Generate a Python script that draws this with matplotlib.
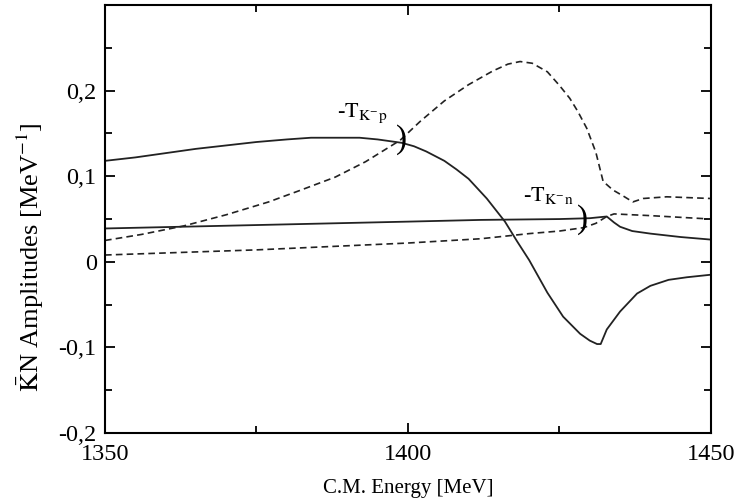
import numpy as np
import matplotlib.pyplot as plt
from matplotlib.ticker import MultipleLocator, FuncFormatter

plt.rcParams['font.family'] = ['Liberation Serif', 'DejaVu Serif']
plt.rcParams['mathtext.fontset'] = 'stix'

# -T(K-p) amplitude, real part (solid) and imaginary part (dashed)
e_kp_re = [1350, 1355, 1360, 1365, 1370, 1375, 1380, 1384, 1388, 1392, 1395, 1397,
           1399, 1401, 1403, 1406, 1408, 1410, 1413, 1416, 1418, 1420, 1423, 1425.6,
           1428.4, 1430, 1431.2, 1431.8, 1432.8, 1435, 1437.8, 1440, 1443, 1446, 1450]
kp_re = [0.118, 0.122, 0.127, 0.132, 0.136, 0.140, 0.143, 0.145, 0.145, 0.145, 0.143,
         0.141, 0.139, 0.135, 0.129, 0.118, 0.108, 0.097, 0.074, 0.047, 0.024, 0.002,
         -0.036, -0.064, -0.084, -0.092, -0.096, -0.096, -0.079, -0.058, -0.037,
         -0.028, -0.021, -0.018, -0.015]

e_kp_im = [1350, 1356, 1363, 1370, 1377, 1382, 1388, 1393, 1398.7, 1402, 1406, 1410,
           1414, 1416.5, 1418.5, 1420.5, 1423, 1425, 1426.7, 1428, 1429.5, 1431, 1432.2,
           1433.8, 1435.5, 1437.1, 1438.8, 1442.7, 1450]
kp_im = [0.025, 0.032, 0.042, 0.055, 0.070, 0.083, 0.099, 0.117, 0.142, 0.164, 0.188,
         0.207, 0.223, 0.231, 0.234, 0.232, 0.222, 0.206, 0.191, 0.176, 0.156, 0.128,
         0.094, 0.084, 0.077, 0.070, 0.074, 0.076, 0.074]

# -T(K-n) amplitude, real part (solid) and imaginary part (dashed)
e_kn_re = [1350, 1375, 1400, 1412, 1425, 1430, 1432.8, 1434, 1435, 1437, 1440, 1445, 1450]
kn_re = [0.039, 0.043, 0.047, 0.049, 0.050, 0.051, 0.053, 0.046, 0.041, 0.036, 0.033,
         0.029, 0.026]

e_kn_im = [1350, 1375, 1400, 1412, 1420, 1425, 1429, 1431, 1432.8, 1434, 1437, 1440,
           1445, 1450]
kn_im = [0.008, 0.014, 0.022, 0.027, 0.033, 0.036, 0.040, 0.045, 0.053, 0.056, 0.055,
         0.054, 0.052, 0.050]

ink = '#222222'

fig = plt.figure(figsize=(7.41, 5.03), dpi=100)
ax = fig.add_axes([0.1417, 0.139, 0.8178, 0.851])

ax.plot(e_kp_re, kp_re, color=ink, lw=1.3)
ax.plot(e_kp_im, kp_im, color=ink, lw=1.2, ls=(0, (4, 2.5)))
ax.plot(e_kn_re, kn_re, color=ink, lw=1.3)
ax.plot(e_kn_im, kn_im, color=ink, lw=1.2, ls=(0, (4, 2.5)))

# bracket marks where the curves are labelled
ax.text(1398.9, 0.143, ')', fontsize=24, ha='center', va='center', color='black')
ax.text(1428.8, 0.049, ')', fontsize=24, ha='center', va='center', color='black')
ax.text(1392.5, 0.174, r'-$\mathrm{T}_{\mathrm{K}^{-}\mathrm{p}}$', fontsize=16,
        ha='center', va='center')
ax.text(1423.2, 0.077, r'-$\mathrm{T}_{\mathrm{K}^{-}\mathrm{n}}$', fontsize=16,
        ha='center', va='center')

ax.set_xlim(1350, 1450)
ax.set_ylim(-0.2, 0.3)
ax.xaxis.set_major_locator(MultipleLocator(50))
ax.xaxis.set_minor_locator(MultipleLocator(25))
ax.set_yticks([-0.2, -0.1, 0, 0.1, 0.2])
ax.yaxis.set_minor_locator(MultipleLocator(0.05))


def comma(v, pos):
    if abs(v) < 1e-9:
        return '0'
    return ('%.1f' % v).replace('.', ',')


ax.yaxis.set_major_formatter(FuncFormatter(comma))
ax.tick_params(which='both', direction='in', top=True, right=True, labelsize=17.5,
               width=1.3)
ax.tick_params(which='major', length=7)
ax.tick_params(which='minor', length=5)
ax.tick_params(axis='x', pad=8)
ax.tick_params(axis='y', pad=6)
for s in ax.spines.values():
    s.set_linewidth(1.5)

ax.set_xlabel('C.M. Energy [MeV]', fontsize=15, labelpad=10)
ax.set_ylabel(r'$\bar{\mathrm{K}}$N Amplitudes [MeV$^{-1}$]', fontsize=19)
ax.yaxis.set_label_coords(-0.097, 0.41)

fig.savefig('out.png', dpi=100)
